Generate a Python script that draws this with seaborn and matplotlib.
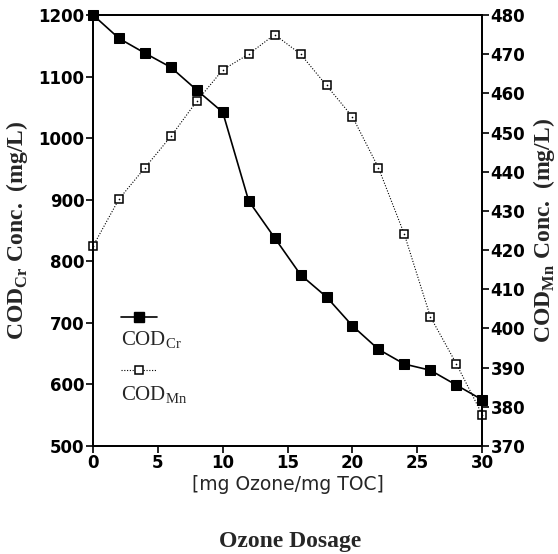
import matplotlib
matplotlib.use("Agg")
import matplotlib.pyplot as plt
import seaborn as sns
import pandas as pd

dosage = [0, 2, 4, 6, 8, 10, 12, 14, 16, 18, 20, 22, 24, 26, 28, 30]
cod_cr = [1200, 1162, 1138, 1115, 1078, 1042, 898, 838, 778, 742, 695, 657, 633, 623, 599, 575]
cod_mn = [421, 433, 441, 449, 458, 466, 470, 475, 470, 462, 454, 441, 424, 403, 391, 378]
x_ticks = [0, 5, 10, 15, 20, 25, 30]
left_ticks = [500, 600, 700, 800, 900, 1000, 1100, 1200]
right_ticks = [370, 380, 390, 400, 410, 420, 430, 440, 450, 460, 470, 480]

df = pd.DataFrame({"dosage": dosage, "cr": cod_cr, "mn": cod_mn})

sns.set_style("ticks")
plt.rcParams["font.family"] = ["DejaVu Sans"]
plt.rcParams["mathtext.fontset"] = "custom"
plt.rcParams["mathtext.rm"] = "Liberation Serif"
plt.rcParams["mathtext.bf"] = "Liberation Serif:bold"

fig = plt.figure(figsize=(5.58, 5.54), dpi=100)
ax = fig.add_axes([0.1667, 0.195, 0.6975, 0.778])
ax2 = ax.twinx()

sns.lineplot(data=df, x="dosage", y="mn", ax=ax2, color="black", linestyle=(0, (1, 1.5)),
             linewidth=0.8, marker="s", markersize=6, markerfacecolor="white",
             markeredgecolor="black", markeredgewidth=1.1, clip_on=False, zorder=2)
sns.lineplot(data=df, x="dosage", y="mn", ax=ax2, color="black", linewidth=0,
             marker="o", markersize=1.2, markeredgewidth=0, clip_on=False, zorder=3)
ax.set_zorder(ax2.get_zorder() + 1)
ax.patch.set_visible(False)
sns.lineplot(data=df, x="dosage", y="cr", ax=ax, color="black", linewidth=1.2,
             marker="s", markersize=7, markerfacecolor="black", markeredgecolor="black",
             clip_on=False)

ax.set_xlim(0, 30)
ax.set_ylim(500, 1200)
ax2.set_ylim(370, 480)
ax.set_xticks(x_ticks)
ax.set_yticks(left_ticks)
ax2.set_yticks(right_ticks)

tick_font = dict(family="DejaVu Sans", weight="bold", size=12)
for a in (ax, ax2):
    for lab in a.get_xticklabels() + a.get_yticklabels():
        lab.set_fontproperties(matplotlib.font_manager.FontProperties(**tick_font))
    a.tick_params(length=5, width=1.2, pad=1, colors="black")
    for s in a.spines.values():
        s.set_linewidth(1.3)
        s.set_color("black")
        s.set_visible(True)

ax.set_xlabel("[mg Ozone/mg TOC]", fontsize=13.5, family="DejaVu Sans", labelpad=2)
ax.set_ylabel(r"COD$_{\mathbf{Cr}}$ Conc.  (mg/L)", fontsize=17, family="Liberation Serif",
              weight="bold", labelpad=6)
ax2.set_ylabel(r"COD$_{\mathbf{Mn}}$ Conc.  (mg/L)", fontsize=17, family="Liberation Serif",
               weight="bold", labelpad=4, rotation=90)

fig.text(0.52, 0.023, "Ozone Dosage", ha="center", va="center", fontsize=17,
         family="Liberation Serif", weight="bold")

# legend (decoration)
ax.plot([0.072, 0.165], [0.299, 0.299], transform=ax.transAxes, color="black", lw=1.2,
        clip_on=False)
ax.plot([0.118], [0.299], transform=ax.transAxes, marker="s", ms=7, color="black")
ax.text(0.072, 0.246, r"COD$_{\mathrm{Cr}}$", transform=ax.transAxes, fontsize=15,
        family="Liberation Serif", va="center", ha="left")
ax.plot([0.072, 0.165], [0.176, 0.176], transform=ax.transAxes, color="black", lw=0.8,
        linestyle=(0, (1, 1.5)))
ax.plot([0.118], [0.176], transform=ax.transAxes, marker="s", ms=6, mfc="white",
        mec="black", mew=1.1)
ax.text(0.072, 0.118, r"COD$_{\mathrm{Mn}}$", transform=ax.transAxes, fontsize=15,
        family="Liberation Serif", va="center", ha="left")

fig.savefig("out.png", dpi=100)
